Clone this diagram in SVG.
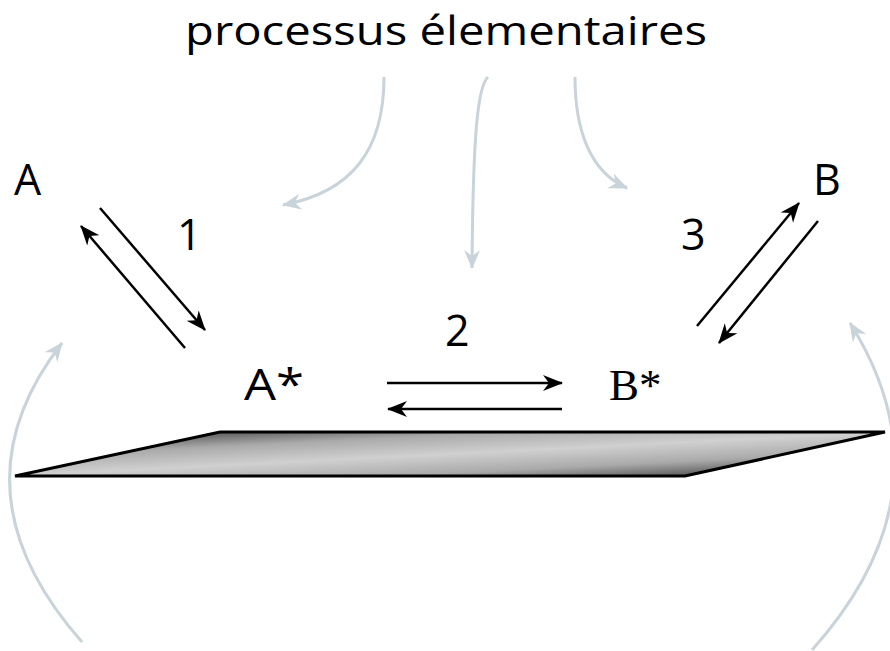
<svg xmlns="http://www.w3.org/2000/svg" width="890" height="651" viewBox="0 0 890 651">
<style>
.t{font-family:"Open Sans","Liberation Sans",sans-serif;font-size:40px;fill:#000}
.l{font-family:"Open Sans","Liberation Sans",sans-serif;font-size:43px;fill:#000}
.s{font-family:"Liberation Serif",serif;font-size:45px;fill:#000}
.k{stroke:#000;stroke-width:2.5;fill:none;marker-end:url(#ah)}
.g{stroke:#c8d3da;stroke-width:3;fill:none;marker-end:url(#gh)}
</style>
<defs>
<marker id="ah" markerUnits="userSpaceOnUse" markerWidth="22" markerHeight="18" refX="19" refY="8" orient="auto">
<path d="M0,0 L20,8 L0,16 L6,8 z" fill="#000"/>
</marker>
<marker id="gh" markerUnits="userSpaceOnUse" markerWidth="22" markerHeight="18" refX="18" refY="8" orient="auto">
<path d="M0,0 L19,8 L0,16 L6,8 z" fill="#c8d3da"/>
</marker>
<linearGradient id="pg" gradientUnits="userSpaceOnUse" x1="448.3" y1="420.1" x2="451.7" y2="487.9">
<stop offset="0" stop-color="#5a5a5a"/>
<stop offset="0.22" stop-color="#aaaaaa"/>
<stop offset="0.5" stop-color="#d0d0d0"/>
<stop offset="0.78" stop-color="#aaaaaa"/>
<stop offset="1" stop-color="#5a5a5a"/>
</linearGradient>
</defs>
<g id="title"><text class="t" x="446" y="45" text-anchor="middle" textLength="522" lengthAdjust="spacingAndGlyphs">processus élementaires</text></g>
<g id="surface"><polygon points="220,432 885,432 685,476 15,476" fill="url(#pg)" stroke="#000" stroke-width="3" stroke-linejoin="miter"/></g>
<g id="A"><text class="l" x="14" y="195">A</text></g>
<g id="B"><text class="l" x="813" y="195">B</text></g>
<g id="Astar"><text class="l" x="244" y="400" textLength="60" lengthAdjust="spacingAndGlyphs">A*</text></g>
<g id="Bstar"><text class="s" x="609" y="400">B*</text></g>
<g id="l1"><text class="l" x="177" y="250">1</text></g>
<g id="l2"><text class="l" x="445" y="346">2</text></g>
<g id="l3"><text class="l" x="681" y="250">3</text></g>
<g id="connectors">
<line class="k" x1="100" y1="208" x2="205" y2="330"/>
<line class="k" x1="185" y1="348" x2="81" y2="226"/>
<line class="k" x1="697" y1="326" x2="799" y2="203"/>
<line class="k" x1="818" y1="221" x2="719" y2="343"/>
<line class="k" x1="387" y1="383" x2="562" y2="383"/>
<line class="k" x1="562" y1="409" x2="388" y2="409"/>
<path class="g" d="M384,77 C384,150 352,192 283,205"/>
<path class="g" d="M488,77 C478,86 473,130 472,268"/>
<path class="g" d="M575,77 C575,130 590,172 627,188"/>
<path class="g" d="M82,642 Q-52,490 62,343"/>
<path class="g" d="M812,650 Q955,490 850,323"/>
</g>
</svg>
